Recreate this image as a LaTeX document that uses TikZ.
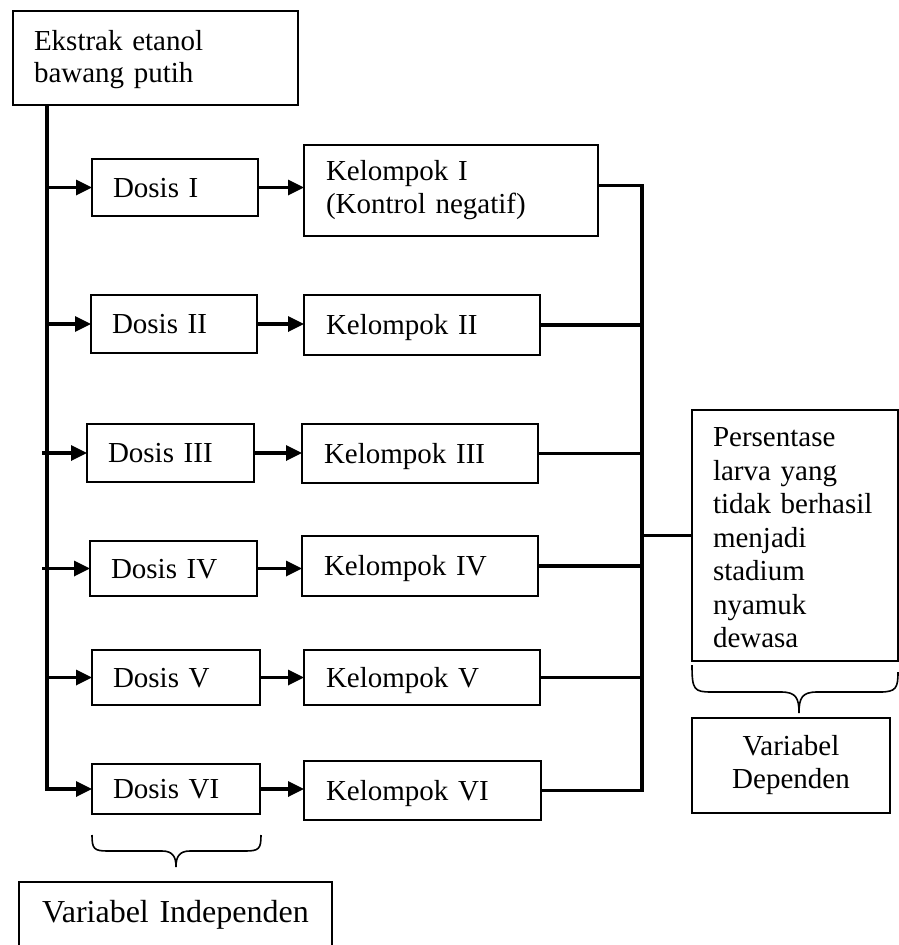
\documentclass[tikz,border=0pt]{standalone}
\usepackage{fontspec}
\setmainfont{Liberation Serif}
\usetikzlibrary{arrows.meta}
\tikzset{
  bx/.style={draw, line width=1.8pt, inner xsep=21pt, inner ysep=0pt, outer sep=0pt,
    font=\fontsize{29}{33}\selectfont, align=left},
  one/.style={text height=19pt, text depth=0pt},
  conn/.style={line width=3.3pt},
  arr/.style={conn, -{Triangle[length=16pt,width=15pt]}},
  br/.style={line width=1.6pt}
}
\begin{document}
\begin{tikzpicture}[x=1pt,y=-1pt]
\useasboundingbox (0,0) rectangle (899,945);
\clip (0,0) rectangle (899,945);
% top box
\node[bx, minimum width=285pt, minimum height=94pt, text width=243pt,
  font=\fontsize{29}{32}\selectfont] (top) at (155.5,58) {\rule{0pt}{22.5pt}Ekstrak etanol\\bawang putih};
% dosis boxes
\node[bx, one, minimum width=166pt, minimum height=57pt, text width=124pt] (D1) at (175,187.5) {Dosis I};
\node[bx, one, minimum width=166pt, minimum height=58pt, text width=124pt] (D2) at (174,324) {Dosis II};
\node[bx, one, minimum width=167pt, minimum height=58pt, text width=125pt] (D3) at (170.5,453) {Dosis III};
\node[bx, one, minimum width=167pt, minimum height=55pt, text width=125pt] (D4) at (173.5,568.5) {Dosis IV};
\node[bx, one, minimum width=168pt, minimum height=55pt, text width=126pt] (D5) at (176,677.5) {Dosis V};
\node[bx, one, minimum width=168pt, minimum height=50pt, text width=126pt] (D6) at (176,789) {Dosis VI};
% kelompok boxes
\node[bx, minimum width=294pt, minimum height=91pt, text width=250pt, inner xsep=22pt] (K1) at (451,190.5) {Kelompok I\\(Kontrol negatif)};
\node[bx, one, minimum width=236pt, minimum height=60pt, text width=192pt, inner xsep=22pt] (K2) at (422,325) {Kelompok II};
\node[bx, one, minimum width=236pt, minimum height=59pt, text width=192pt, inner xsep=22pt] (K3) at (420,453.5) {Kelompok III};
\node[bx, one, minimum width=236pt, minimum height=60pt, text width=192pt, inner xsep=22pt] (K4) at (420,566) {Kelompok IV};
\node[bx, one, minimum width=236pt, minimum height=55pt, text width=192pt, inner xsep=22pt] (K5) at (422,677.5) {Kelompok V};
\node[bx, one, minimum width=237pt, minimum height=59pt, text width=193pt, inner xsep=22pt] (K6) at (422.5,790.5) {Kelompok VI};
% outcome box
\node[bx, minimum width=206pt, minimum height=251pt, text width=164pt,
  font=\fontsize{29}{33.5}\selectfont] (P) at (795,535.5)
  {\rule{0pt}{24pt}Persentase\\larva yang\\tidak berhasil\\menjadi\\stadium\\nyamuk\\dewasa};
\node[bx, align=center, minimum width=198pt, minimum height=95pt, text width=170pt, inner xsep=14pt] (VD) at (791,765.5) {Variabel\\Dependen};
\node[bx, align=center, minimum width=313pt, minimum height=80pt, text width=300pt, inner xsep=6.5pt,
  text height=0pt, text depth=0pt, font=\fontsize{32}{36}\selectfont] (VI) at (175.5,922) {Variabel Independen};
% helper coordinates
\coordinate (spx) at (47,0);
\coordinate (bus) at (642,0);
% spine
\draw[arr] (top.south -| spx) |- (D6.west);
\draw[arr] (D1.west -| spx) -- (D1.west);
\draw[arr] (D2.west -| spx) -- (D2.west);
\draw[arr] ([xshift=-5pt]D3.west -| spx) -- (D3.west);
\draw[arr] ([xshift=-5pt]D4.west -| spx) -- (D4.west);
\draw[arr] (D5.west -| spx) -- (D5.west);
% dosis -> kelompok
\foreach \i in {1,...,6} {
  \draw[arr] (D\i.east) -- (D\i.east -| K\i.west);
}
% kelompok -> bus
\draw[conn] ([yshift=5pt]K1.east) -| (bus |- K6.east) -- (K6.east);
\foreach \i in {2,...,5} {
  \draw[conn] (K\i.east) -- (K\i.east -| bus);
}
\draw[conn] (P.west -| bus) -- (P.west);
% braces
\draw[br] (692,665) .. controls (692,690) and (694,692) .. (712,692) -- (781,692)
  .. controls (796,692) and (799,698) .. (799,713)
  .. controls (799,698) and (802,692) .. (817,692) -- (880,692)
  .. controls (896,692) and (898,688) .. (898,672);
\draw[br] (92,835) .. controls (92,849) and (94,851) .. (108,851) -- (162,851)
  .. controls (173,851) and (176,857) .. (176,867)
  .. controls (176,857) and (179,851) .. (190,851) -- (245,851)
  .. controls (259,851) and (261,849) .. (261,835);
\end{tikzpicture}
\end{document}
